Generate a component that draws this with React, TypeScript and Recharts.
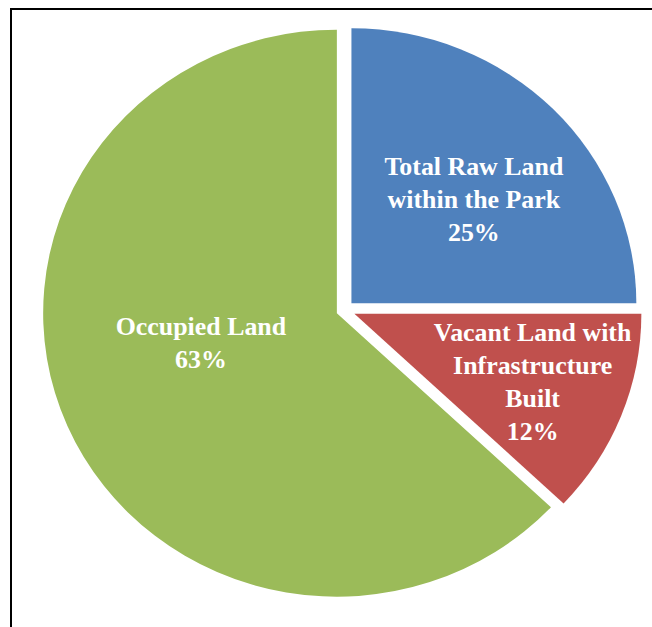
import React from 'react';
import { PieChart, Pie, Cell } from 'recharts';

// ---- data ----
const categories = [
  'Total Raw Land within the Park',
  'Vacant Land with Infrastructure Built',
  'Occupied Land',
];
const shares = [25, 12, 63];
const labelLines = [
  ['Total Raw Land', 'within the Park'],
  ['Vacant Land with', 'Infrastructure', 'Built'],
  ['Occupied Land'],
];
const percentLabels = ['25%', '12%', '63%'];

// ---- style ----
const colors = ['#4F81BD', '#C0504D', '#9BBB59'];
const explode = [9.5, 10.3, 8];
const radii = [275, 277, 283.5];
const labelRadius = [0.572, 0.668, 0.475];
const labelAngleShift = [-3.7, 0, -10.4];

const data = categories.map((name, i) => ({ name, value: shares[i] }));

const SX = 1.036;
const W = 630;
const H = 627;
const CX = 332.5;
const CY = 310;
const LINE_H = 33;

const total = shares.reduce((a, b) => a + b, 0);
const midAngles = shares.map((s, i) => {
  const before = shares.slice(0, i).reduce((a, b) => a + b, 0);
  return 90 - (360 * (before + s / 2)) / total;
});

const makeLabel = (k: number) => (props: any) => {
  const { cx, cy, midAngle, outerRadius, index } = props;
  if (index !== k) return null;
  const ang = ((midAngle + labelAngleShift[k]) * Math.PI) / 180;
  const r = outerRadius * labelRadius[k];
  const x = cx + r * Math.cos(ang);
  const yc = cy - r * Math.sin(ang);
  const lines = [...labelLines[k], percentLabels[k]];
  const y0 = yc - ((lines.length - 1) * LINE_H) / 2 + 8.5;
  return (
    <text
      x={x}
      y={y0}
      textAnchor="middle"
      fill="#ffffff"
      fontFamily='"Liberation Serif", "Times New Roman", serif'
      fontWeight="bold"
      fontSize={25}
    >
      {lines.map((ln, j) => (
        <tspan key={j} x={x} y={y0 + j * LINE_H}>
          {ln}
        </tspan>
      ))}
    </text>
  );
};

export default function App() {
  return (
    <div
      style={{
        position: 'fixed',
        left: 0,
        top: 0,
        width: 652,
        height: 627,
        overflow: 'hidden',
        background: '#fff',
      }}
    >
      <div
        style={{
          position: 'absolute',
          left: 10,
          top: 8,
          width: 700,
          height: 700,
          borderLeft: '2px solid #000',
          borderTop: '2px solid #000',
          boxSizing: 'border-box',
        }}
      />
      <div
        style={{
          position: 'absolute',
          left: 0,
          top: 0,
          transform: `scaleX(${SX})`,
          transformOrigin: '0 0',
        }}
      >
        <PieChart width={W} height={H} margin={{ top: 0, right: 0, bottom: 0, left: 0 }}>
          {data.map((_, k) => {
            const a = (midAngles[k] * Math.PI) / 180;
            return (
              <Pie
                key={k}
                data={data}
                dataKey="value"
                nameKey="name"
                cx={CX + explode[k] * Math.cos(a)}
                cy={CY - explode[k] * Math.sin(a)}
                outerRadius={radii[k]}
                startAngle={90}
                endAngle={-270}
                stroke="none"
                isAnimationActive={false}
                labelLine={false}
                label={makeLabel(k)}
              >
                {data.map((__, i) => (
                  <Cell key={i} fill={i === k ? colors[i] : 'transparent'} stroke="none" />
                ))}
              </Pie>
            );
          })}
        </PieChart>
      </div>
    </div>
  );
}
